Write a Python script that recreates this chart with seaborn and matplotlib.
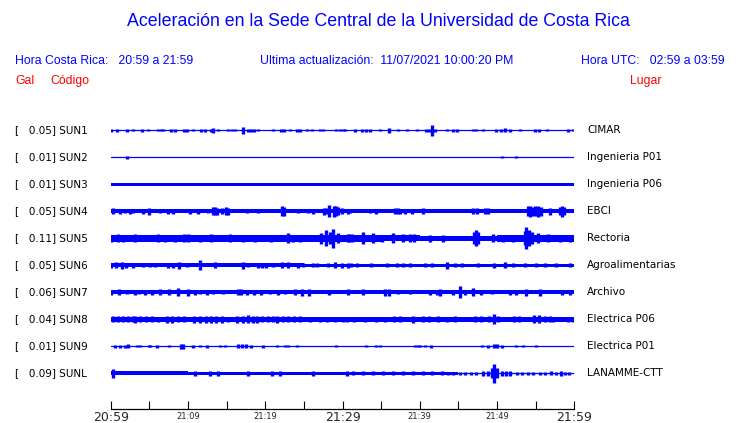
import numpy as np
import pandas as pd
import seaborn as sns
import matplotlib
matplotlib.use("Agg")
from matplotlib import pyplot as plt

# station info
codes = ["SUN1", "SUN2", "SUN3", "SUN4", "SUN5", "SUN6", "SUN7", "SUN8", "SUN9", "SUNL"]
gal = [0.05, 0.01, 0.01, 0.05, 0.11, 0.05, 0.06, 0.04, 0.01, 0.09]
places = ["CIMAR", "Ingenieria P01", "Ingenieria P06", "EBCI", "Rectoria",
          "Agroalimentarias", "Archivo", "Electrica P06", "Electrica P01", "LANAMME-CTT"]

# background noise half-width per 5-minute bin (trace units)
band_sun1 = [0.6, 0.6, 0.6, 0.6, 0.6, 0.6, 0.6, 0.6, 0.6, 0.6, 0.6, 0.6]
band_sun2 = [0.6, 0.6, 0.6, 0.6, 0.6, 0.6, 0.6, 0.6, 0.6, 0.6, 0.6, 0.6]
band_sun3 = [1.7, 1.7, 1.7, 1.7, 1.7, 1.7, 1.7, 1.7, 1.7, 1.7, 1.7, 1.7]
band_sun4 = [1.9, 1.9, 1.9, 1.9, 1.9, 1.9, 1.9, 1.9, 1.9, 1.9, 1.9, 1.9]
band_sun5 = [3.2, 3.2, 3.2, 3.2, 3.2, 3.2, 3.2, 3.0, 2.8, 2.6, 3.2, 3.2]
band_sun6 = [1.9, 1.9, 1.9, 1.9, 1.9, 1.6, 1.4, 1.4, 1.4, 1.4, 1.4, 1.4]
band_sun7 = [2.0, 2.0, 2.0, 2.0, 2.0, 2.0, 2.0, 2.0, 2.0, 2.0, 2.0, 2.0]
band_sun8 = [2.3, 2.3, 2.3, 2.3, 2.3, 2.3, 2.3, 2.3, 2.3, 2.3, 2.3, 2.3]
band_sun9 = [0.6, 0.6, 0.6, 0.6, 0.6, 0.6, 0.6, 0.6, 0.6, 0.6, 0.6, 0.6]
band_sunl = [1.9, 1.9, 1.7, 1.7, 1.7, 1.7, 1.7, 1.7, 1.4, 0.6, 0.6, 0.6]

# bursts: (minutes after 20:59, half amplitude)
ev_sun1 = [(0.0, 1.5), (0.8, 1.5), (2.1, 1.5), (2.9, 1), (4.1, 1.5), (4.8, 1), (6.1, 1), (6.5, 1),
           (6.8, 1), (7.8, 1.5), (8.3, 1.5), (9.5, 1.5), (9.9, 1.5), (10.7, 1), (11.7, 1.5),
           (12.2, 1.5), (13.0, 1.5), (13.2, 2.5), (13.9, 1), (15.2, 1), (15.7, 1), (16.1, 1),
           (17.1, 3.5), (17.8, 1.5), (18.2, 1.5), (18.5, 1.5), (19.1, 1), (21.0, 1), (22.1, 1.5),
           (22.4, 1.5), (23.2, 1), (24.1, 1.5), (24.5, 1.5), (25.4, 1), (26.1, 1), (27.1, 1),
           (27.5, 1), (29.1, 1), (29.7, 1), (30.1, 1), (30.3, 1), (31.6, 1.5), (32.5, 1.5),
           (33.0, 1.5), (33.5, 1.5), (34.8, 1), (36.0, 2.5), (37.2, 1), (38.3, 1), (39.6, 1),
           (40.8, 1.5), (41.2, 1.5), (41.6, 5.3), (42.0, 1.5), (43.5, 1), (44.3, 1.5), (44.8, 1.5),
           (46.9, 1), (47.3, 1), (48.2, 1), (49.9, 1.5), (50.5, 1.5), (51.0, 2), (51.7, 1.5),
           (53.0, 1), (54.9, 1.5), (55.4, 1.5), (56.5, 1), (59.2, 1.5), (59.8, 1)]
ev_sun2 = [(2.1, 1.5), (50.6, 1), (52.5, 1)]
ev_sun3 = []
ev_sun4 = [(0.3, 3), (1.2, 2.5), (1.9, 2), (2.5, 2.5), (2.9, 2), (4.2, 2.5), (5.0, 3.5), (6.4, 2),
           (7.4, 2.5), (8.1, 2.5), (10.3, 2.5), (11.3, 2.5), (12.6, 2), (13.2, 4), (13.5, 4),
           (13.8, 3.5), (14.4, 3), (14.9, 4), (15.2, 3.5), (17.6, 2), (19.1, 2), (22.2, 5),
           (22.4, 4.5), (24.2, 2), (25.5, 2), (26.2, 2.5), (27.6, 3.5), (27.9, 3), (28.3, 6),
           (28.9, 5.5), (29.2, 5), (29.4, 4), (29.9, 3), (30.7, 2.5), (31.0, 2), (33.6, 2),
           (34.4, 2.5), (36.8, 3), (37.2, 3), (37.4, 2.5), (38.1, 2.5), (39.0, 2.5), (40.4, 3),
           (46.9, 3), (47.4, 3), (48.4, 3), (48.8, 3), (54.0, 5), (54.3, 5.5), (54.5, 4.5),
           (54.9, 5), (55.3, 5.5), (55.7, 4.5), (56.9, 3.5), (58.2, 4), (58.4, 5.5), (58.7, 4)]
ev_sun5 = [(0.1, 3.5), (1.0, 4), (1.6, 3.5), (3.1, 4), (3.8, 3), (6.1, 4), (7.0, 3.5), (8.3, 3.5),
           (9.5, 4), (10.0, 4), (11.6, 3.5), (13.0, 4), (15.4, 4), (17.1, 3.5), (18.7, 3.5),
           (20.7, 3.5), (22.9, 5), (23.6, 3.5), (24.5, 3.5), (27.2, 5.5), (27.9, 8), (28.4, 6),
           (28.8, 9.5), (29.4, 5), (30.7, 4), (30.9, 4), (31.2, 4), (32.7, 6), (33.9, 5),
           (35.1, 3.5), (36.5, 5), (37.8, 4), (38.7, 4), (39.3, 4), (41.3, 3.5), (43.0, 3.5),
           (47.0, 6), (47.3, 8), (47.5, 6), (49.5, 4), (50.8, 3.5), (52.1, 3.5), (53.6, 7),
           (53.7, 11), (54.1, 8), (54.5, 6), (55.3, 5), (56.6, 4), (58.1, 3.5), (59.4, 3.5)]
ev_sun6 = [(0.1, 2.5), (0.7, 3), (1.4, 3.5), (2.0, 2.5), (2.9, 2.5), (4.2, 2), (5.1, 2), (5.7, 2),
           (7.4, 2.5), (8.1, 2.5), (8.8, 3.5), (9.9, 2), (11.5, 5), (13.5, 3), (17.1, 3.5),
           (17.8, 2), (19.1, 2.5), (19.6, 2.5), (20.1, 2.5), (21.0, 2), (22.2, 3), (22.9, 3),
           (24.2, 2.5), (24.9, 2), (26.2, 2), (26.7, 2), (28.1, 2), (29.0, 3), (29.9, 2.5),
           (30.7, 2.5), (31.1, 2), (31.9, 2), (33.7, 2), (35.8, 2), (37.1, 2), (37.8, 2),
           (38.7, 2), (40.7, 2), (41.6, 2), (43.5, 3.5), (44.5, 2), (45.5, 2), (47.5, 2),
           (49.6, 2.5), (51.0, 3), (52.1, 2), (53.6, 2), (55.0, 2), (56.2, 2), (57.6, 2), (59.4, 2)]
ev_sun7 = [(0.1, 2.5), (1.1, 3), (2.1, 2), (3.1, 2.5), (3.6, 2), (4.4, 2.5), (5.3, 2.5), (6.4, 3),
           (7.5, 3), (8.7, 4), (10.0, 3.5), (10.9, 2.5), (11.6, 2), (12.4, 2.5), (13.3, 2),
           (14.5, 2), (16.5, 3), (16.9, 3), (17.6, 2.5), (18.5, 2.5), (19.5, 2.5), (20.6, 2),
           (21.7, 2.5), (22.6, 2), (23.9, 3), (24.7, 3.5), (25.6, 3.5), (28.2, 2.5), (30.7, 3),
           (32.7, 3), (35.5, 3.5), (36.0, 3.5), (37.2, 2), (38.7, 2), (41.3, 2.5), (42.2, 2.5),
           (42.6, 3.5), (44.3, 2.5), (45.2, 6), (45.9, 2.5), (46.9, 4), (47.9, 2.5), (49.3, 2),
           (51.7, 2.5), (52.5, 2.5), (53.8, 3.5), (55.6, 3.5), (58.4, 2.5), (59.4, 2.5)]
ev_sun8 = [(0.3, 3), (0.9, 3), (1.6, 3), (2.2, 3), (2.9, 3), (3.1, 3.5), (3.8, 3), (4.6, 3),
           (5.3, 3), (6.1, 2.5), (7.3, 3.5), (7.9, 3.5), (8.7, 3), (9.5, 3), (10.8, 3.5),
           (11.6, 3.5), (12.3, 3.5), (13.0, 3.5), (13.6, 3.5), (14.4, 3.5), (15.2, 2.5),
           (16.3, 3.5), (17.1, 3.5), (17.8, 4), (18.4, 3.5), (18.9, 3.5), (19.6, 3), (20.4, 3),
           (21.0, 3), (21.5, 3.5), (22.3, 3), (22.9, 3), (23.7, 3), (24.5, 3), (25.8, 2.5),
           (27.1, 2.5), (28.0, 2.5), (29.0, 2.5), (30.1, 2.5), (30.6, 2.5), (31.5, 2.5),
           (32.9, 2.5), (34.3, 2.5), (35.5, 2.5), (36.7, 3), (37.4, 3), (39.1, 3.5), (40.4, 3),
           (41.2, 3), (42.4, 3), (43.5, 2.5), (44.6, 3), (47.1, 3), (47.9, 3), (49.0, 3),
           (49.6, 5), (50.1, 3), (52.2, 3), (52.8, 3), (54.8, 4), (55.4, 4), (56.2, 3), (56.9, 3),
           (57.2, 2.5), (59.2, 2.5), (59.8, 2.5)]
ev_sun9 = [(0.5, 1.5), (1.2, 1.5), (1.9, 1.5), (2.3, 2), (3.4, 1), (3.8, 1), (4.9, 1), (5.1, 1),
           (6.0, 1.5), (7.5, 1), (9.1, 2.5), (9.4, 2.5), (10.7, 1.5), (11.6, 1), (12.4, 1.5),
           (14.1, 1), (14.8, 1), (16.5, 2), (17.0, 2), (17.5, 2), (18.2, 1.5), (19.7, 1.5),
           (21.5, 1), (22.6, 1), (23.0, 1), (24.1, 1), (29.2, 1), (33.1, 1), (34.4, 1), (34.9, 1),
           (39.4, 1), (39.8, 1), (40.0, 1), (40.7, 1), (41.4, 1.5), (48.0, 1), (48.8, 1.5),
           (49.6, 2), (50.0, 2), (50.6, 1.5), (52.5, 1), (53.3, 1), (55.1, 1)]
ev_sunl = [(0.3, 4.3), (10.9, 2.2), (12.9, 2.2), (13.9, 2.2), (17.8, 2.2), (20.9, 2.2), (21.9, 2.2),
           (26.2, 2.2), (30.6, 2.2), (31.3, 2), (32.6, 2), (33.9, 2), (35.2, 2), (36.5, 2),
           (37.8, 2), (39.1, 2), (40.4, 2), (41.6, 2), (42.9, 2), (43.6, 1.5), (44.3, 1.5),
           (45.2, 1.5), (45.9, 1.5), (46.6, 1.5), (47.3, 1.5), (48.2, 2.5), (48.8, 2.5), (49.4, 5),
           (49.6, 9.5), (50.0, 5), (50.6, 2.5), (51.2, 2.5), (51.7, 2.5), (52.6, 1.5), (53.2, 1.5),
           (54.0, 1.5), (54.7, 1.5), (55.6, 1.5), (56.2, 1.5), (57.0, 2), (57.6, 1.5), (58.3, 2.5),
           (58.8, 1.5), (59.3, 1.5)]

bands = [band_sun1, band_sun2, band_sun3, band_sun4, band_sun5,
         band_sun6, band_sun7, band_sun8, band_sun9, band_sunl]
events = [ev_sun1, ev_sun2, ev_sun3, ev_sun4, ev_sun5,
          ev_sun6, ev_sun7, ev_sun8, ev_sun9, ev_sunl]

major_ticks = [0, 30, 60]
major_labels = ["20:59", "21:29", "21:59"]
minor_ticks = [5, 10, 15, 20, 25, 35, 40, 45, 50, 55]
minor_labels = ["", "21:09", "", "21:19", "", "", "21:39", "", "21:49", ""]

BLUE = "#0000ff"
RED = "#ff0000"

sns.set_theme(style="white")
plt.rcParams["font.family"] = "DejaVu Sans"

W, H = 740, 423
fig = plt.figure(figsize=(W / 100, H / 100), dpi=100)
ax = fig.add_axes([110.7 / W, 14 / H, 463.6 / W, 294 / H])

spacing = 27
rows = np.arange(len(codes)) * spacing

base = pd.DataFrame({"t": np.tile([0, 60], len(codes)),
                     "y": np.repeat(rows, 2),
                     "code": np.repeat(codes, 2)})
sns.lineplot(data=base, x="t", y="y", units="code", estimator=None,
             color=BLUE, linewidth=0.9, ax=ax, legend=False)

edges = np.arange(0, 61, 5)
for row, band, ev in zip(rows, bands, events):
    b = np.append(band, band[-1])
    ax.fill_between(edges, row - b, row + b, step="post", color=BLUE, linewidth=0)
    if ev:
        ev = np.array(ev)
        ax.vlines(ev[:, 0], row - ev[:, 1], row + ev[:, 1], color=BLUE, linewidth=2.4)

ax.set_xlim(0, 60)
ax.set_ylim(278.7, -15.3)
ax.set_xlabel("")
ax.set_ylabel("")
ax.set_yticks([])
ax.set_xticks(major_ticks, major_labels)
ax.set_xticks(minor_ticks, minor_labels, minor=True)
ax.tick_params(axis="x", which="both", direction="in", length=5.8, width=0.8,
               color="black", bottom=True)
ax.tick_params(axis="x", which="major", labelsize=9, pad=1.5)
ax.tick_params(axis="x", which="minor", labelsize=6, pad=2)
for s in ["left", "top", "right"]:
    ax.spines[s].set_visible(False)
ax.spines["bottom"].set_color("black")
ax.spines["bottom"].set_linewidth(0.9)

# station labels
for row, c, g, p in zip(rows, codes, gal, places):
    ax.annotate(f"[   {g:.2f}] {c}", xy=(15 / W, row), xycoords=("figure fraction", "data"),
                va="center", ha="left", fontsize=7.5, color="black")
    ax.annotate(p, xy=(587 / W, row), xycoords=("figure fraction", "data"),
                va="center", ha="left", fontsize=7.5, color="black")

# header
sans = "Liberation Sans"
fig.text(378 / W, 1 - 22 / H, "Aceleración en la Sede Central de la Universidad de Costa Rica",
         ha="center", va="center", color=BLUE, fontsize=12.8, family=sans)
fig.text(15 / W, 1 - 61 / H, "Hora Costa Rica:   20:59 a 21:59",
         ha="left", va="center", color=BLUE, fontsize=8.8, family=sans)
fig.text(260 / W, 1 - 61 / H, "Ultima actualización:  11/07/2021 10:00:20 PM",
         ha="left", va="center", color=BLUE, fontsize=8.8, family=sans)
fig.text(725 / W, 1 - 61 / H, "Hora UTC:   02:59 a 03:59",
         ha="right", va="center", color=BLUE, fontsize=8.8, family=sans)
fig.text(15 / W, 1 - 81 / H, "Gal", ha="left", va="center", color=RED, fontsize=8.8, family=sans)
fig.text(50 / W, 1 - 81 / H, "Código", ha="left", va="center", color=RED, fontsize=8.8, family=sans)
fig.text(630 / W, 1 - 81 / H, "Lugar", ha="left", va="center", color=RED, fontsize=8.8, family=sans)

fig.savefig("out.png", dpi=100)
